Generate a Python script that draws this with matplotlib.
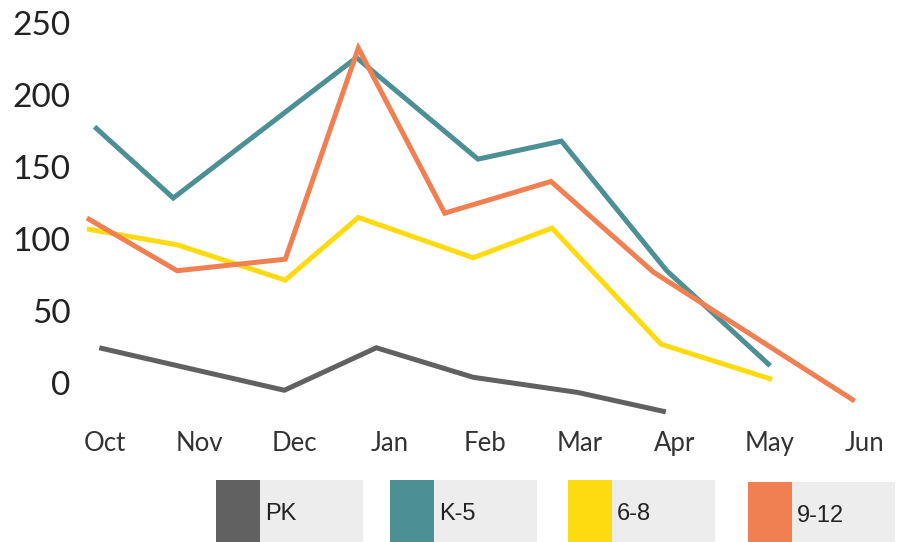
import matplotlib
matplotlib.use("Agg")
import matplotlib.pyplot as plt
from matplotlib.patches import Rectangle

# month labels (Oct = 0)
months = ["Oct", "Nov", "Dec", "Jan", "Feb", "Mar", "Apr", "May", "Jun"]

# each series has its own x positions (fractional months)
pk_x = [-0.06, 1.89, 2.86, 3.88, 4.98, 5.91]
pk_y = [24.5, -5, 24.5, 4, -6.5, -20]

k5_x = [-0.11, 0.72, 2.65, 3.93, 4.81, 5.92, 7.01]
k5_y = [178, 128.5, 226, 155.5, 168, 78, 12]

g68_x = [-0.19, 0.76, 1.90, 2.67, 3.88, 4.71, 5.86, 7.03]
g68_y = [107, 96, 71.5, 115, 87, 107.6, 27, 2.5]

g912_x = [-0.19, 0.76, 1.90, 2.67, 3.58, 4.70, 5.78, 7.90]
g912_y = [114.6, 78, 86, 232.6, 118, 140, 77, -12.5]

names = ["PK", "K-5", "6-8", "9-12"]
colors = ["#616162", "#4c9095", "#fedb10", "#f07f51"]

W, H = 901, 542
fig = plt.figure(figsize=(W / 100, H / 100), dpi=100)
ax = fig.add_axes([80 / W, 1 - 430 / H, 1 - 80 / W, 430 / H])

series = [(pk_x, pk_y), (k5_x, k5_y), (g68_x, g68_y), (g912_x, g912_y)]
for (xs, ys), c in zip(series, colors):
    ax.plot(xs, ys, color=c, linewidth=3.6, solid_capstyle="butt", solid_joinstyle="miter")

ax.set_xlim(-0.263, 8.388)
ax.set_ylim(-32.6, 266)
ax.set_yticks([0, 50, 100, 150, 200, 250])
ax.set_xticks(range(len(months)))
ax.set_xticklabels(months)
for s in ax.spines.values():
    s.set_visible(False)
ax.tick_params(axis="y", length=0, pad=7, labelsize=24, labelcolor="#222222")
ax.tick_params(axis="x", length=0, pad=1, labelsize=18.5, labelcolor="#333333")
for lab in ax.get_yticklabels() + ax.get_xticklabels():
    lab.set_fontfamily("Lato")

# legend boxes along the bottom
box_left = [216, 390, 568, 748]
box_top = [480, 480, 480, 482]
for left, top, name, c in zip(box_left, box_top, names, colors):
    fig.patches.append(Rectangle((left / W, 0), 147 / W, 1 - top / H,
                                 transform=fig.transFigure, facecolor="#ededed", edgecolor="none"))
    fig.patches.append(Rectangle((left / W, 0), 44 / W, 1 - top / H,
                                 transform=fig.transFigure, facecolor=c, edgecolor="none"))
    fig.text((left + 49) / W, 1 - (top + 34) / H, name, fontsize=17, color="#222222",
             family="Liberation Sans", va="center", ha="left")

fig.savefig("out.png", dpi=100)
